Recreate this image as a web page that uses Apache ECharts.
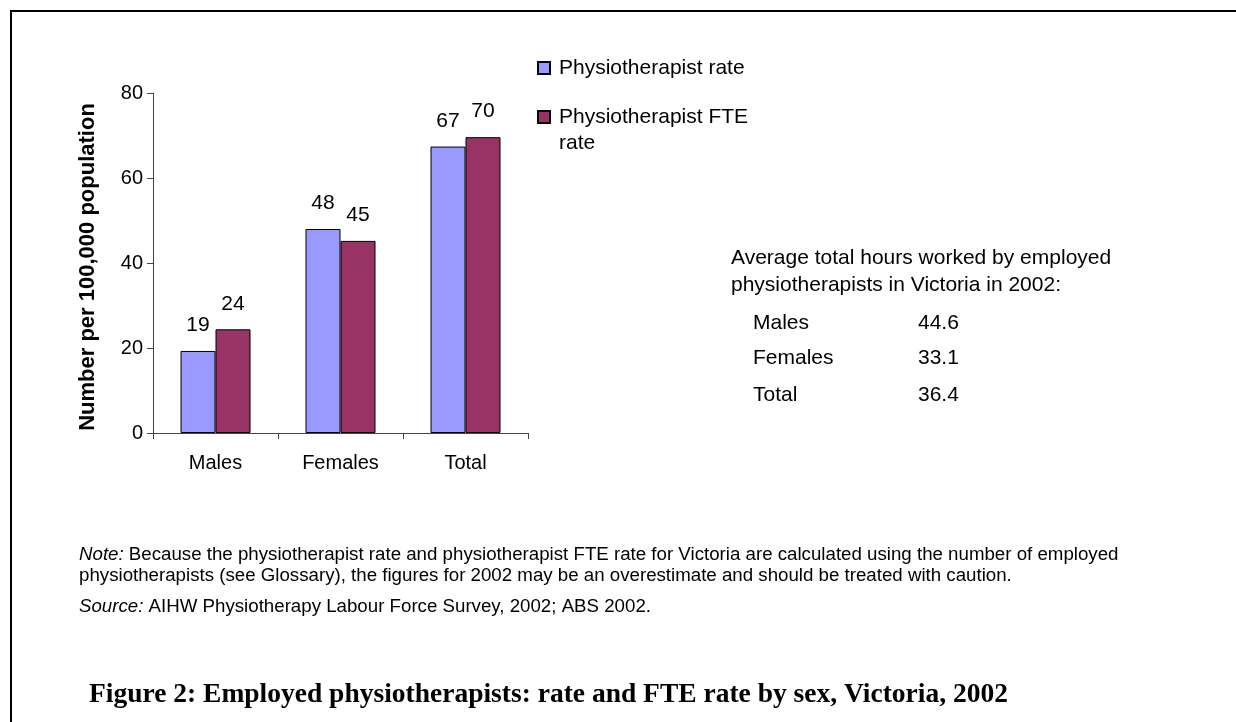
<!DOCTYPE html>
<html>
<head>
<meta charset="utf-8">
<script src="https://cdn.jsdelivr.net/npm/echarts@6/dist/echarts.min.js"></script>
<style>
  html, body { margin: 0; padding: 0; background: #fff; }
  #chart { width: 1236px; height: 722px; }
</style>
</head>
<body>
<div id="chart"></div>
<script>
// chart data
const categories = ['Males', 'Females', 'Total'];
const seriesNames = ['Physiotherapist rate', 'Physiotherapist FTE rate'];
const rateValues = [19.3, 48.0, 67.4];
const fteValues = [24.4, 45.2, 69.6];
const yMin = 0, yMax = 80, yStep = 20;

// side table: average hours worked
const hoursTitle = ['Average total hours worked by employed', 'physiotherapists in Victoria in 2002:'];
const hoursLabels = ['Males', 'Females', 'Total'];
const hoursValues = ['44.6', '33.1', '36.4'];

const noteText = ['Because the physiotherapist rate and physiotherapist FTE rate for Victoria are calculated using the number of employed',
    'physiotherapists (see Glossary), the figures for 2002 may be an overestimate and should be treated with caution.'];
const sourceText = 'AIHW Physiotherapy Labour Force Survey, 2002; ABS 2002.';
const figureTitle = 'Figure 2: Employed physiotherapists: rate and FTE rate by sex, Victoria, 2002';

const FONT = 'Liberation Sans, Arial, sans-serif';
const colors = ['#9999FF', '#993366'];

const chart = echarts.init(document.getElementById('chart'));

const graphics = [
    {
        type: 'rect',
        shape: { x: 11, y: 11, width: 1250, height: 740 },
        style: { fill: 'none', stroke: '#000', lineWidth: 2 },
        silent: true
    },
    {
        type: 'text', left: 731, top: 245,
        style: { text: hoursTitle.join('\n'), font: '21px ' + FONT, fill: '#000', lineHeight: 27 }
    }
];
hoursLabels.forEach((lab, i) => {
    const y = [323, 358, 395][i];
    graphics.push({ type: 'text', x: 753, y: y, style: { text: lab, font: '21px ' + FONT, fill: '#000', verticalAlign: 'middle' } });
    graphics.push({ type: 'text', x: 918, y: y, style: { text: hoursValues[i], font: '21px ' + FONT, fill: '#000', verticalAlign: 'middle' } });
});

const italicRich = { i: { fontStyle: 'italic', fontSize: 18.7, fontFamily: FONT, lineHeight: 21 } };
graphics.push({
    type: 'text', x: 79, y: 544.5,
    style: {
        text: '{i|Note:} ' + noteText[0] + '\n' + noteText[1],
        font: '18.7px ' + FONT, fill: '#000', lineHeight: 21, rich: italicRich
    }
});
graphics.push({
    type: 'text', x: 79, y: 596.5,
    style: {
        text: '{i|Source:} ' + sourceText,
        font: '18.7px ' + FONT, fill: '#000', lineHeight: 21, rich: italicRich
    }
});
graphics.push({
    type: 'text', x: 89, y: 695,
    style: { text: figureTitle, font: 'bold 27.5px "Liberation Serif", "Times New Roman", serif', fill: '#000', verticalAlign: 'middle' }
});

const labelStyle = {
    show: true, position: 'top', distance: 15,
    color: '#000', fontSize: 21, fontFamily: FONT,
    formatter: p => Math.round(p.value)
};

chart.setOption({
    animation: false,
    backgroundColor: '#fff',
    textStyle: { fontFamily: FONT },
    grid: { left: 153, right: 708, top: 93, bottom: 289, containLabel: false },
    legend: {
        orient: 'vertical', left: 537, top: 55, padding: 0,
        itemWidth: 12, itemHeight: 12, itemGap: -3,
        icon: 'rect',
        formatter: name => '{t|' + name + '}',
        textStyle: {
            color: '#000', fontSize: 21, fontFamily: FONT, lineHeight: 26, padding: [0, 0, 0, 4],
            rich: { t: { color: '#000', fontSize: 21, fontFamily: FONT, lineHeight: 26 } }
        },
        data: [
            { name: seriesNames[0] },
            { name: seriesNames[1], textStyle: { width: 200, overflow: 'break', padding: [26, 0, 0, 4] } }
        ]
    },
    xAxis: {
        type: 'category', data: categories,
        axisLine: { lineStyle: { color: '#444', width: 1 } },
        axisTick: { show: true, length: 6, lineStyle: { color: '#444' } },
        axisLabel: { color: '#000', fontSize: 20, fontFamily: FONT, margin: 20 }
    },
    yAxis: {
        type: 'value', min: yMin, max: yMax, interval: yStep,
        name: 'Number per 100,000 population', nameLocation: 'middle', nameGap: 54,
        nameTextStyle: { color: '#000', fontSize: 22, fontWeight: 'bold', fontFamily: FONT, padding: [0, 8, 0, 0] },
        axisLine: { show: true, lineStyle: { color: '#444', width: 1 } },
        axisTick: { show: true, length: 6, lineStyle: { color: '#444' } },
        axisLabel: { color: '#000', fontSize: 20, fontFamily: FONT, margin: 10 },
        splitLine: { show: false }
    },
    series: [
        {
            name: seriesNames[0], type: 'bar', data: rateValues,
            barGap: '0%', barCategoryGap: '44%',
            itemStyle: { color: colors[0], borderColor: '#000', borderWidth: 1 },
            label: labelStyle
        },
        {
            name: seriesNames[1], type: 'bar', data: fteValues,
            itemStyle: { color: colors[1], borderColor: '#000', borderWidth: 1 },
            label: labelStyle
        }
    ],
    graphic: graphics
});
</script>
</body>
</html>
